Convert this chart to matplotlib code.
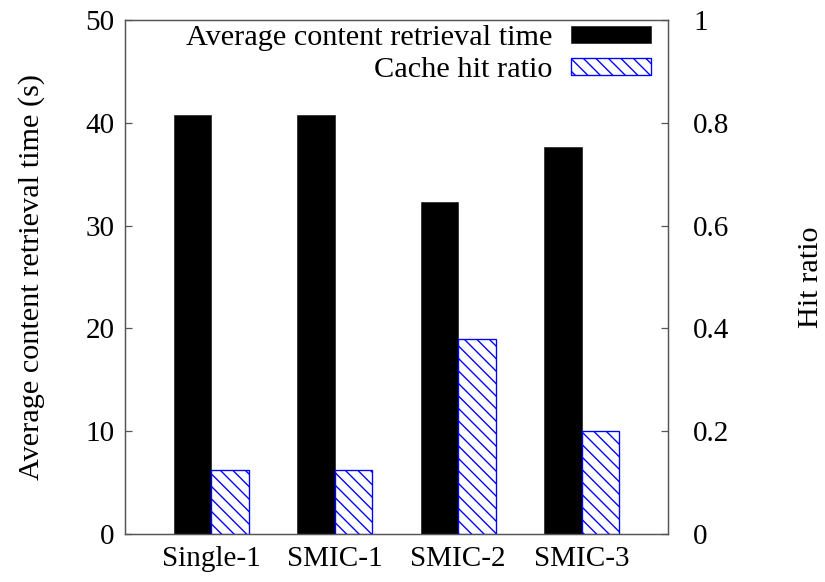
import numpy as np
import matplotlib.pyplot as plt

categories = ['Single-1', 'SMIC-1', 'SMIC-2', 'SMIC-3']
retrieval_time = [40.8, 40.8, 32.3, 37.6]
hit_ratio = [0.125, 0.125, 0.38, 0.2]
left_ticks = [0, 10, 20, 30, 40, 50]
right_ticks = [0, 0.2, 0.4, 0.6, 0.8, 1]
right_tick_labels = ['0', '0.2', '0.4', '0.6', '0.8', '1']

plt.rcParams['font.family'] = ['Liberation Serif', 'DejaVu Serif']
plt.rcParams['hatch.linewidth'] = 1.3
fs = 28

fig = plt.figure(figsize=(11, 7.76), dpi=75)
ax = fig.add_axes([125/825, 48/582, 543/825, 514/582])
ax2 = ax.twinx()

x = np.arange(1, len(categories) + 1)
w = 0.305
b1 = ax.bar(x - w/2, retrieval_time, w, color='black', edgecolor='black', linewidth=0.5)
b2 = ax2.bar(x + w/2, hit_ratio, w, facecolor='white', edgecolor='blue',
             hatch='\\\\', linewidth=1.3)

ax.set_xlim(0.3, 4.7)
ax.set_ylim(0, 50)
ax2.set_ylim(0, 1)
ax.set_xticks(x)
ax.set_xticklabels(categories)
ax.set_yticks(left_ticks)
ax2.set_yticks(right_ticks)
ax2.set_yticklabels(right_tick_labels)

ax.tick_params(axis='y', direction='in', length=7, width=1.2, color='#555555', pad=10, labelsize=fs)
ax.tick_params(axis='x', length=0, pad=12, labelsize=fs)
ax2.tick_params(axis='y', direction='in', length=7, width=1.2, color='#555555', pad=24, labelsize=fs)

for a in (ax, ax2):
    for s in a.spines.values():
        s.set_color('#555555')
        s.set_linewidth(1.2)

ax.set_ylabel('Average content retrieval time (s)', fontsize=29, labelpad=39)
ax2.set_ylabel('Hit ratio', fontsize=29, labelpad=66)

ax2.legend([b1, b2], ['Average content retrieval time', 'Cache hit ratio'],
           loc='upper right', bbox_to_anchor=((651-125)/543, 1.0 - 5/514),
           frameon=False, markerfirst=False, fontsize=29,
           handlelength=2.65, handleheight=0.5, handletextpad=0.62,
           labelspacing=0.2, borderpad=0, borderaxespad=0)

fig.savefig('out.png', dpi=75)
